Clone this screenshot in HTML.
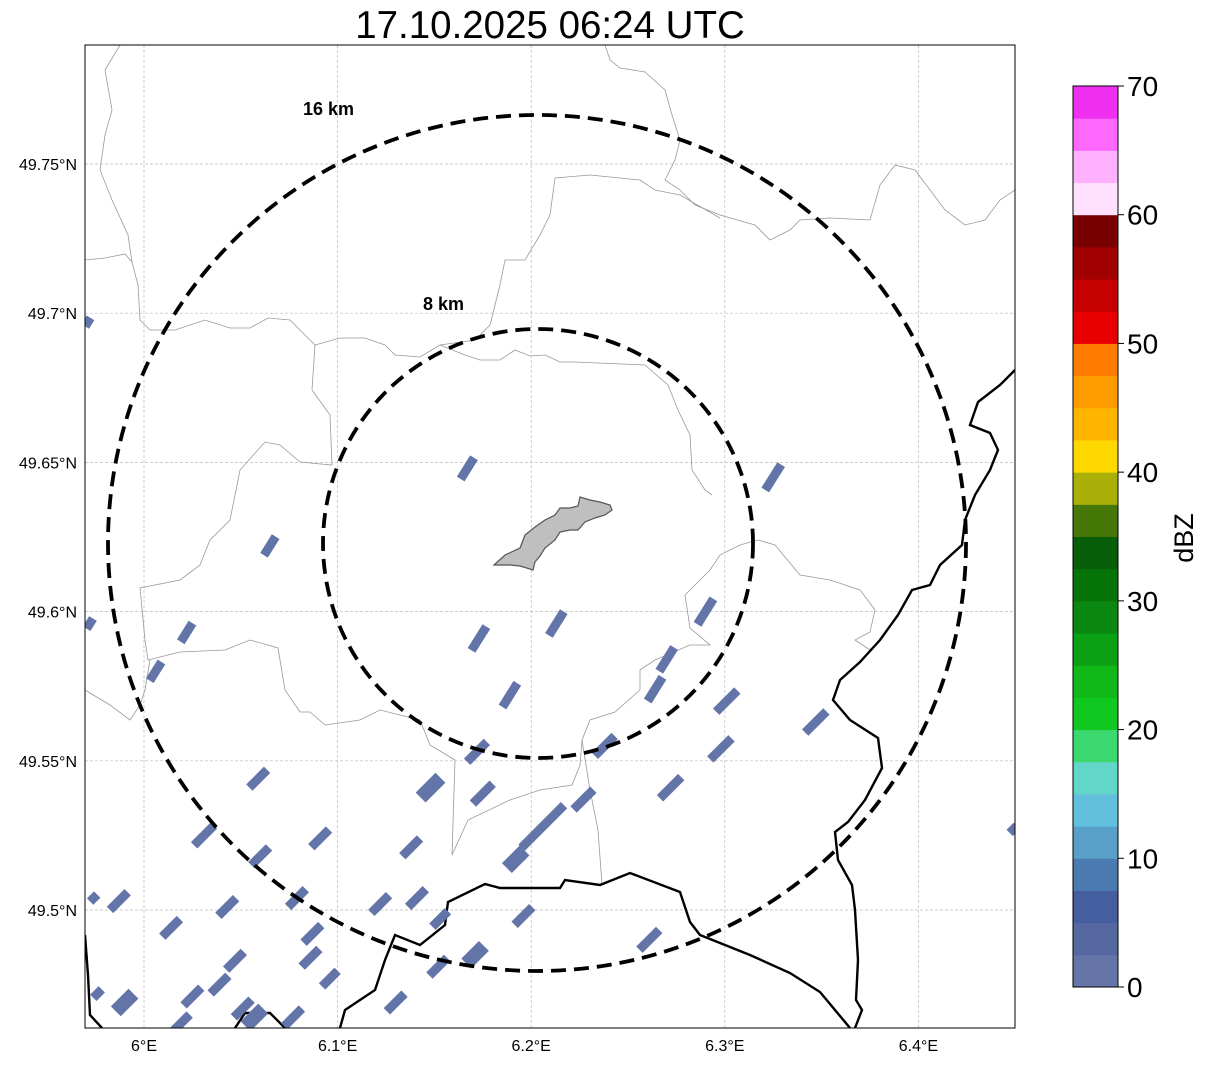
<!DOCTYPE html>
<html><head><meta charset="utf-8"><style>
body{margin:0;background:#fff;width:1207px;height:1064px;overflow:hidden;font-family:"Liberation Sans",sans-serif}
</style></head><body>
<svg width="1207" height="1064" xmlns="http://www.w3.org/2000/svg">
<text x="550" y="38" font-size="38.5" text-anchor="middle">17.10.2025 06:24 UTC</text>
<defs><clipPath id="mapclip"><rect x="85" y="45" width="930" height="983"/></clipPath></defs>
<g id="map" clip-path="url(#mapclip)">
<g id="grid"></g>
<g fill="none" stroke="#999" stroke-width="0.8">
<path d="M85,260 L105,258 L125,254 L132,262 L138,285 L140,320 L150,330 L175,330 L205,320 L230,328 L250,328 L268,318 L290,320 L315,345"/>
<path d="M120,45 L105,70 L112,110 L105,135 L100,170 L112,200 L128,235 L132,262"/>
<path d="M605,45 L610,60 L620,68 L645,72 L665,90 L672,115 L680,140 L675,160 L665,180 L680,190 L695,205 L720,215 L755,225 L770,240 L790,230 L800,220 L830,218 L870,220 L880,185 L895,165 L915,170 L945,210 L965,225 L985,220 L1000,200 L1015,190"/>
<path d="M315,345 L340,338 L365,338 L385,345 L395,355 L420,357 L440,345 L475,340 L490,325 L500,285 L505,260 L525,260 L540,235 L550,215 L555,178 L590,175 L640,180 L655,190 L680,195 L720,218"/>
<path d="M315,345 L312,390 L330,415 L332,465 L300,462 L280,445 L265,442 L240,470 L230,520 L210,540 L200,565 L180,580 L140,588 L145,640 L148,660 L180,652 L225,650 L250,640 L278,648 L285,690 L300,712 L310,712 L325,725 L360,720 L380,710 L420,720 L430,745 L455,760 L452,855 L468,820 L510,800 L540,790 L572,785 L580,765 L582,740 L590,720 L615,712 L640,690 L640,670 L655,660 L690,645 L710,645 L690,628 L685,595 L700,580 L710,570 L720,555 L740,545 L758,540 L775,545 L800,575 L830,580 L860,590 L875,610 L870,632 L855,640 L870,650"/>
<path d="M440,345 L465,355 L480,360 L500,360 L515,350 L530,356 L545,355 L560,362 L575,362 L645,365 L668,385 L678,410 L690,435 L692,470 L705,490 L712,495"/>
<path d="M85,690 L110,705 L130,720 L140,705 L145,690 L150,660"/>
<path d="M582,740 L590,790 L598,830 L602,885"/>
</g>
<g fill="none" stroke="#000" stroke-width="2.4">
<path d="M1015,370 L1000,385 L978,402 L970,425 L990,433 L998,450 L990,470 L975,495 L965,520 L962,545 L940,565 L930,585 L912,590 L898,615 L880,640 L860,662 L840,680 L833,700 L850,720 L878,738 L882,768 L865,800 L848,822 L835,832 L838,860 L852,885 L855,910 L858,960 L856,1000 L862,1010 L855,1028"/>
<path d="M340,1028 L345,1010 L375,990 L385,960 L395,935 L420,945 L445,925 L448,902 L485,884 L500,888 L560,888 L565,880 L600,885 L630,873 L680,892 L690,922 L700,935 L750,955 L790,973 L820,992 L850,1028"/>
<path d="M85,935 L88,975 L90,1015 L102,1028"/>
<path d="M235,1028 L245,1013 L270,1013 L285,1028"/>
</g>
<path d="M494,565 L505,555 L520,548 L525,535 L535,527 L545,520 L555,515 L560,508 L570,508 L578,506 L580,497 L590,500 L600,502 L610,505 L612,510 L605,515 L595,518 L585,522 L578,530 L570,530 L560,532 L555,540 L545,548 L540,556 L535,562 L533,570 L520,566 L510,565 Z" fill="#bfbfbf" stroke="#555" stroke-width="1.2"/>
<g id="echoes"></g>
<g fill="none" stroke="#000" stroke-width="3.8" stroke-dasharray="15,8">
<ellipse cx="537" cy="543" rx="429" ry="428"/>
<ellipse cx="538" cy="543.5" rx="215" ry="214.5"/>
</g>
<text x="303" y="115" font-size="18" font-weight="bold">16 km</text>
<text x="423" y="310" font-size="18" font-weight="bold">8 km</text>
</g>
<rect x="85" y="45" width="930" height="983" fill="none" stroke="#000" stroke-width="1"/>
<g id="xticks" font-size="16" text-anchor="middle"></g>
<g id="yticks" font-size="16" text-anchor="end"></g>
<g id="cbar"></g>
<text transform="translate(1193,538) rotate(-90)" font-size="27" text-anchor="middle">dBZ</text>
</svg>
<script>
const NS="http://www.w3.org/2000/svg";
const lonTicks=[6.0,6.1,6.2,6.3,6.4];
const lonLabels=["6°E","6.1°E","6.2°E","6.3°E","6.4°E"];
const latTicks=[49.75,49.7,49.65,49.6,49.55,49.5];
const latLabels=["49.75°N","49.7°N","49.65°N","49.6°N","49.55°N","49.5°N"];
const cbColors=["#6575a8","#5568a0","#445ea0","#4a7ab0","#58a0c8","#62c0dc","#62d6c8","#3cd870","#10c820","#10b818","#0ca014","#0a8810","#067408","#065e08","#467808","#aab008","#ffd800","#ffb400","#ff9c00","#ff7c00","#e80000","#c40000","#a00000","#780000","#ffe0ff","#ffb0ff","#ff68ff","#f030f0"];
const cbTicks=[0,10,20,30,40,50,60,70];
const echoLon=[5.971,6.167,6.325,6.065,5.972,6.022,6.006,6.173,6.213,6.290,6.270,6.264,6.189,6.301,6.347,6.238,6.298,6.172,6.059,6.148,6.175,6.272,6.227,6.031,6.091,6.060,6.138,6.206,6.192,5.974,5.987,6.043,6.079,6.122,6.141,6.153,6.196,6.014,6.087,6.047,6.086,6.096,6.152,6.171,6.261,5.976,5.990,6.025,6.039,6.051,6.057,6.077,6.130,6.019,6.449];
const echoLat=[49.697,49.648,49.645,49.622,49.596,49.593,49.580,49.591,49.596,49.600,49.584,49.574,49.572,49.570,49.563,49.555,49.554,49.553,49.544,49.541,49.539,49.541,49.537,49.525,49.524,49.518,49.521,49.528,49.517,49.504,49.503,49.501,49.504,49.502,49.504,49.497,49.498,49.494,49.492,49.483,49.484,49.477,49.481,49.485,49.490,49.472,49.469,49.471,49.475,49.467,49.464,49.464,49.469,49.462,49.527];
const echoLen=[10,25,30,22,12,22,22,28,28,30,28,28,28,30,30,28,30,28,25,28,28,30,28,28,25,25,25,60,25,10,25,25,25,25,25,22,25,25,25,25,25,22,25,25,28,12,25,25,25,25,25,25,25,25,10];
const echoWide=[0,0,0,0,0,0,0,0,0,0,0,0,0,0,0,0,0,0,0,1,0,0,0,0,0,0,0,0,1,0,0,0,0,0,0,0,0,0,0,0,0,0,0,1,0,0,1,0,0,0,1,0,0,0,0];
const X=lon=>144+(lon-6.0)*1936;
const Y=lat=>164+(49.75-lat)*2984;
function mk(tag,attrs,parent){const e=document.createElementNS(NS,tag);for(const k in attrs)e.setAttribute(k,attrs[k]);parent.appendChild(e);return e;}
const grid=document.getElementById('grid'),xt=document.getElementById('xticks'),yt=document.getElementById('yticks');
lonTicks.forEach((v,i)=>{
 const l=mk('line',{x1:X(v),x2:X(v),y1:45,y2:1028,stroke:'#bbb','stroke-width':0.7,'stroke-dasharray':'3,2'},grid);
 
 
 const t=mk('text',{x:X(v),y:1051},xt);t.textContent=lonLabels[i];
 
 
});
latTicks.forEach((v,i)=>{
 const l=mk('line',{x1:85,x2:1015,y1:Y(v),y2:Y(v),stroke:'#bbb','stroke-width':0.7,'stroke-dasharray':'3,2'},grid);
 
 
 const t=mk('text',{x:77,y:Y(v)+6},yt);t.textContent=latLabels[i];
 
 
});
const eg=document.getElementById('echoes');
echoLon.forEach((lo,i)=>{
 const cx=X(lo),cy=Y(echoLat[i]),L=echoLen[i],W=echoWide[i]?14:9;
 const ang=cy<700?-58:-45;
 const r=mk('rect',{x:cx-L/2,y:cy-W/2,width:L,height:W,fill:'#6274a8',transform:`rotate(${ang} ${cx} ${cy})`},eg);
 
 
});
const cb=document.getElementById('cbar');
const cbTop=86,cbBot=987,cbX=1073,cbW=45,segH=(cbBot-cbTop)/cbColors.length;
const CY=v=>cbBot-(v/70)*(cbBot-cbTop);
cbColors.forEach((c,i)=>{
 const r=mk('rect',{x:cbX,y:cbBot-(i+1)*segH,width:cbW,height:segH+0.5,fill:c},cb);
 
 
});
mk('rect',{x:cbX,y:cbTop,width:cbW,height:cbBot-cbTop,fill:'none',stroke:'#000','stroke-width':1},cb);
cbTicks.forEach(v=>{
 mk('line',{x1:cbX+cbW,x2:cbX+cbW+6,y1:CY(v),y2:CY(v),stroke:'#000'},cb);
 const t=mk('text',{x:1127,y:CY(v)+10,'font-size':28},cb);t.textContent=v;
 
 
});
</script>
</body></html>
